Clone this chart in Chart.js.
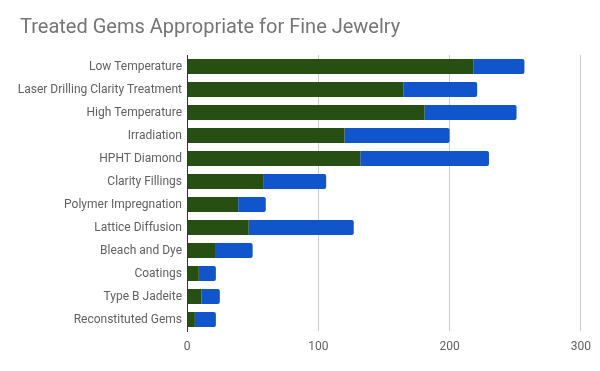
<!DOCTYPE html>
<html>
<head>
<meta charset="utf-8">
<script src="https://cdn.jsdelivr.net/npm/chart.js@4"></script>
<style>
html,body{margin:0;padding:0;background:#fff;}
#wrap{width:600px;height:371px;position:relative;}
</style>
</head>
<body>
<div id="wrap"><canvas id="c" width="600" height="371"></canvas></div>
<script>
const categories = ["Low Temperature","Laser Drilling Clarity Treatment","High Temperature","Irradiation","HPHT Diamond","Clarity Fillings","Polymer Impregnation","Lattice Diffusion","Bleach and Dye","Coatings","Type B Jadeite","Reconstituted Gems"];
const seriesA = [218,165,181,120,132,58,39,47,22,9,11,6];
const seriesB = [39,56,70,80,98,48,21,80,28,13,14,16];
const xTicks = [0,100,200,300];

const shiftTitle = {
  id: 'shiftTitle',
  afterLayout(chart) {
    if (chart.titleBlock) { chart.titleBlock.left = 20; }
  }
};

new Chart(document.getElementById('c'), {
  type: 'bar',
  data: {
    labels: categories,
    datasets: [
      {label:'A', data: seriesA, backgroundColor:'#274e13', barPercentage:0.65, categoryPercentage:1},
      {label:'B', data: seriesB, backgroundColor:'#1155cc', barPercentage:0.65, categoryPercentage:1, borderRadius:2}
    ]
  },
  plugins: [shiftTitle],
  options: {
    indexAxis: 'y',
    responsive: false,
    animation: false,
    layout: {padding: {left: 0, right: 19, top: 0, bottom: 0}},
    plugins: {
      legend: {display:false},
      tooltip: {enabled:false},
      title: {
        display: true,
        text: 'Treated Gems Appropriate for Fine Jewelry',
        align: 'start',
        color: '#757575',
        font: {family:'Roboto', size:20, weight:'normal', lineHeight:1.2},
        padding: {top:16, bottom:15}
      }
    },
    scales: {
      x: {
        stacked: true,
        min: 0, max: 300,
        afterBuildTicks: (s) => { s.ticks = xTicks.map(v => ({value:v})); },
        afterFit: (s) => { s.height = 40; },
        grid: {color: (ctx) => ctx.tick && ctx.tick.value === 0 ? '#333333' : '#cccccc', drawTicks:false},
        border: {display:false},
        ticks: {color:'#616161', font:{family:'Roboto', size:12}, padding:9}
      },
      y: {
        stacked: true,
        afterFit: (s) => { s.width = 187; },
        grid: {display:false, drawTicks:false},
        border: {display:true, color:'#333333', width:1},
        ticks: {color:'#616161', font:{family:'Roboto', size:12}, padding:5}
      }
    }
  }
});
</script>
</body>
</html>
